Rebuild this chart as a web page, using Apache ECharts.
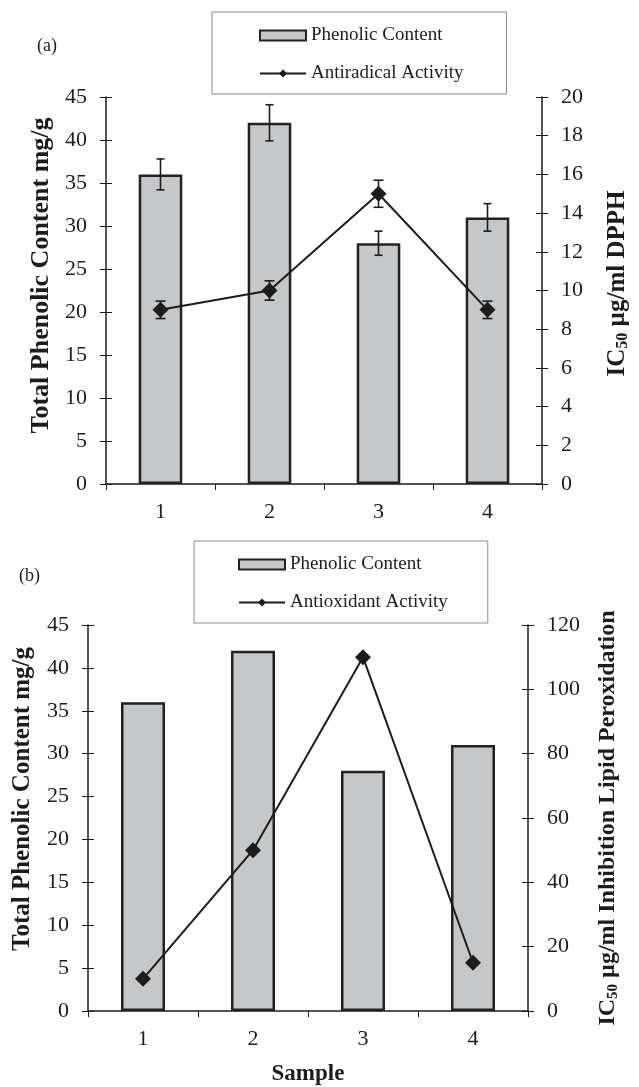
<!DOCTYPE html>
<html>
<head>
<meta charset="utf-8">
<script src="https://cdn.jsdelivr.net/npm/echarts@6/dist/echarts.min.js"></script>
<style>
  html, body { margin: 0; padding: 0; background: #fff; }
  #chart { width: 639px; height: 1087px; }
</style>
</head>
<body>
<div id="chart"></div>
<script>
const samples = ["1", "2", "3", "4"];
const phenolic = [36, 42, 28, 31];
const phenolicErr = [1.8, 2.1, 1.4, 1.6];
const antiradical = [9, 10, 15, 9];
const antiradicalErr = [0.45, 0.5, 0.7, 0.45];
const antioxidant = [10, 50, 110, 15];
const leftTicks = { min: 0, max: 45, interval: 5 };
const rightTicksA = { min: 0, max: 20, interval: 2 };
const rightTicksB = { min: 0, max: 120, interval: 20 };

const FONT = "Liberation Serif";
const INK = "#1c1c1c";

const chart = echarts.init(document.getElementById("chart"));

const tickLabel = { fontFamily: FONT, fontSize: 22, color: INK };
const axisLine = { show: true, lineStyle: { color: INK, width: 1.5 } };

// each axis gets a twin with inward ticks so the ticks cross the line
const valueAxis = (grid, pos, range, extra) => [
  Object.assign({
    type: "value", gridIndex: grid, position: pos,
    min: range.min, max: range.max, interval: range.interval,
    axisLine: axisLine,
    axisTick: { show: true, length: 6, lineStyle: { color: INK, width: 1 } },
    axisLabel: Object.assign({ margin: 19 }, tickLabel),
    splitLine: { show: false },
  }, extra),
  {
    type: "value", gridIndex: grid, position: pos,
    min: range.min, max: range.max, interval: range.interval,
    axisLine: { show: false },
    axisTick: { show: true, inside: true, length: 6, lineStyle: { color: INK, width: 1 } },
    axisLabel: { show: false },
    splitLine: { show: false },
  },
];

const catAxis = (grid, extra) => [
  Object.assign({
    type: "category", gridIndex: grid, data: samples,
    axisLine: axisLine,
    axisTick: { show: true, length: 6, lineStyle: { color: INK, width: 1 } },
    axisLabel: Object.assign({ margin: 17 }, tickLabel),
  }, extra),
  {
    type: "category", gridIndex: grid, data: samples,
    axisLine: { show: false },
    axisTick: { show: true, inside: true, length: 6, lineStyle: { color: INK, width: 1 } },
    axisLabel: { show: false },
  },
];

const titleStyle = (size, shift) => ({
  fontFamily: FONT, fontWeight: "bold", fontSize: size, color: INK,
  padding: [0, 0, 0, shift || 0],
});
const icName = (size, shift) => ({
  fontFamily: FONT, fontWeight: "bold", fontSize: size, color: INK,
  padding: [0, 0, 0, shift || 0],
  rich: {
    b: { fontFamily: FONT, fontWeight: "bold", fontSize: size, color: INK },
    s: { fontFamily: FONT, fontWeight: "bold", fontSize: Math.round(size * 0.62), color: INK, verticalAlign: "bottom", padding: [11, 0, 0, 0] },
  },
});

const errorBars = (xi, yi, values, errs, half) => ({
  type: "custom", xAxisIndex: xi, yAxisIndex: yi, z: 5,
  data: values.map((v, i) => [i, v, errs[i]]),
  renderItem: (params, api) => {
    const x = api.value(0), v = api.value(1), e = api.value(2);
    const top = api.coord([x, v + e]);
    const bot = api.coord([x, v - e]);
    const style = { stroke: INK, lineWidth: 1.6 };
    return {
      type: "group",
      children: [
        { type: "line", shape: { x1: top[0], y1: top[1], x2: bot[0], y2: bot[1] }, style },
        { type: "line", shape: { x1: top[0] - half, y1: top[1], x2: top[0] + half, y2: top[1] }, style },
        { type: "line", shape: { x1: bot[0] - half, y1: bot[1], x2: bot[0] + half, y2: bot[1] }, style },
      ],
    };
  },
});

const barStyle = { color: "#c6c7c9", borderColor: "#222", borderWidth: 2.5 };
const lineSeries = (name, xi, yi, data) => ({
  name, type: "line", xAxisIndex: xi, yAxisIndex: yi, data, z: 4,
  symbol: "diamond", symbolSize: 16,
  lineStyle: { color: INK, width: 2 },
  itemStyle: { color: INK },
});

const legend = (names, left, top, pad) => ({
  data: [{ name: names[0], icon: "rect" }, { name: names[1] }],
  left, top, orient: "vertical",
  borderColor: "#8a8a8a", borderWidth: 1, padding: pad,
  itemWidth: 46, itemHeight: 10, itemGap: 19,
  selectedMode: false,
  textStyle: { fontFamily: FONT, fontSize: 19, color: INK },
});

chart.setOption({
  animation: false,
  backgroundColor: "#fff",
  title: [
    { text: "(a)", left: 32, top: 32, textStyle: { fontFamily: FONT, fontWeight: "normal", fontSize: 18, color: INK } },
    { text: "(b)", left: 14, top: 562, textStyle: { fontFamily: FONT, fontWeight: "normal", fontSize: 18, color: INK } },
  ],
  legend: [
    legend(["Phenolic Content", "Antiradical Activity"], 212, 12, [14, 43, 11, 47]),
    legend(["Phenolic Content", "Antioxidant Activity"], 194, 541, [14, 40, 11, 44]),
  ],
  grid: [
    { left: 106, top: 97, width: 438, height: 387 },
    { left: 88, top: 625, width: 440, height: 388 },
  ],
  xAxis: [
    ...catAxis(0),
    ...catAxis(1, { name: "Sample", nameLocation: "middle", nameGap: 52, nameTextStyle: titleStyle(23) }),
  ],
  yAxis: [
    ...valueAxis(0, "left", leftTicks, {
      name: "Total Phenolic Content mg/g", nameLocation: "middle", nameRotate: 90, nameGap: 51,
      nameTextStyle: titleStyle(26, 30),
    }),
    ...valueAxis(0, "right", rightTicksA, {
      name: "{b|IC}{s|50}{b| µg/ml DPPH}", nameLocation: "middle", nameRotate: 90, nameGap: 62,
      nameTextStyle: icName(25, 14),
    }),
    ...valueAxis(1, "left", leftTicks, {
      name: "Total Phenolic Content mg/g", nameLocation: "middle", nameRotate: 90, nameGap: 53,
      nameTextStyle: titleStyle(25, 38),
    }),
    ...valueAxis(1, "right", rightTicksB, {
      name: "{b|IC}{s|50}{b| µg/ml Inhibition Lipid Peroxidation}", nameLocation: "middle", nameRotate: 90, nameGap: 67,
      nameTextStyle: icName(24, 0),
    }),
  ],
  series: [
    { name: "Phenolic Content", type: "bar", xAxisIndex: 0, yAxisIndex: 0, data: phenolic, barWidth: "40%", itemStyle: barStyle },
    errorBars(0, 0, phenolic, phenolicErr, 4),
    lineSeries("Antiradical Activity", 0, 2, antiradical),
    errorBars(0, 2, antiradical, antiradicalErr, 5),
    { name: "Phenolic Content", type: "bar", xAxisIndex: 2, yAxisIndex: 4, data: phenolic, barWidth: "40%", itemStyle: barStyle },
    lineSeries("Antioxidant Activity", 2, 6, antioxidant),
  ],
});
</script>
</body>
</html>
